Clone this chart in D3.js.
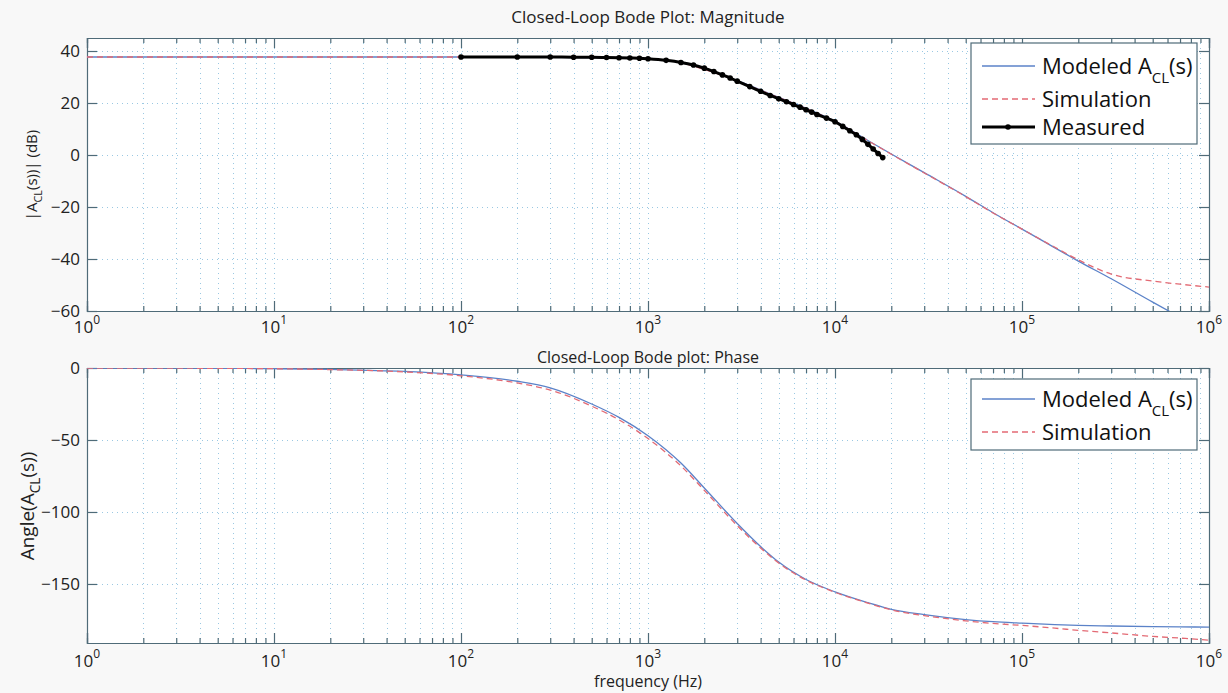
<!DOCTYPE html>
<html>
<head>
<meta charset="utf-8">
<script src="https://cdn.jsdelivr.net/npm/d3@7"></script>
<style>
  body { margin: 0; background: #f8f8f8; }
  svg { display: block; font-family: "Open Sans", "DejaVu Sans", sans-serif; }
</style>
</head>
<body>
<svg id="chart" width="1228" height="693"></svg>
<script>
// frequency grid used for the modeled and simulated curves (Hz)
const freq = [1, 2, 5, 10, 20, 50, 100, 200, 300, 500, 700, 1000, 1500, 2000, 3000, 4000, 5000, 7000,
  10000, 15000, 20000, 30000, 50000, 70000, 100000, 150000, 200000, 300000, 500000, 700000, 1000000];

// magnitude, dB
const modeledMag = [37.7, 37.7, 37.7, 37.7, 37.7, 37.7, 37.7, 37.7, 37.6, 37.5, 37.3, 37.0, 35.6, 33.0, 28.6, 25.0, 22.2, 18.0,
  13.0, 5.6, 0.4, -6.8, -15.9, -22.2, -28.5, -35.7, -40.8, -47.6, -56.6, -62.4, -68.5];
const simMag = [37.7, 37.7, 37.7, 37.7, 37.7, 37.7, 37.7, 37.7, 37.6, 37.5, 37.3, 37.0, 35.5, 32.9, 28.5, 24.9, 22.1, 17.9,
  12.9, 5.5, 0.3, -6.9, -16.0, -22.3, -28.5, -35.5, -40.3, -45.8, -48.5, -49.7, -50.8];

// phase, degrees
const modeledPhase = [0, -0.1, -0.2, -0.5, -1.0, -2.4, -4.8, -9.2, -13.8, -25, -34.3, -47, -66, -83.3, -108, -124, -134.8, -146.9,
  -155.5, -163, -167.6, -171.3, -174.7, -176.2, -177.2, -178.2, -178.7, -179.2, -179.6, -179.8, -180];
const simPhase = [0, -0.1, -0.2, -0.5, -1.1, -2.7, -5.4, -10.4, -15.3, -26.5, -36, -49, -68, -85, -109.5, -125, -135.5, -147.3,
  -155.8, -163.3, -168, -172, -175.6, -177.4, -178.8, -180.7, -182.2, -184, -186.4, -187.6, -189];

// measured points (magnitude only)
const measFreq = [100, 200, 300, 400, 500, 600, 700, 800, 900, 1000, 1250, 1500, 1750, 2000, 2250, 2500, 2750, 3000,
  3500, 4000, 4500, 5000, 5500, 6000, 6500, 7000, 7500, 8000, 9000, 10000, 11000, 12000, 13000, 14000, 15000,
  16000, 17000, 18000];
const measMag = [37.7, 37.7, 37.7, 37.6, 37.6, 37.5, 37.4, 37.3, 37.2, 37.0, 36.4, 35.6, 34.6, 33.4, 32.1, 30.8, 29.6, 28.4,
  26.3, 24.5, 22.9, 21.6, 20.5, 19.4, 18.4, 17.4, 16.5, 15.6, 14.2, 12.8, 11.0, 9.3, 7.8, 6.0, 4.1,
  2.3, 0.6, -1.0];

const xDecades = [1, 10, 100, 1000, 10000, 100000, 1000000];
const magTicks = [-60, -40, -20, 0, 20, 40];
const phaseTicks = [-150, -100, -50, 0];

const svg = d3.select("#chart");
const L = 87, R = 1209;
const axisColor = "#4f6b78", gridColor = "#9bc8e2";
const blue = "#5b82c8", red = "#e36a74";

// minor ticks for the log axis
let minors = [];
xDecades.slice(0, -1).forEach(d => { for (let k = 2; k <= 9; k++) minors.push(d * k); });

const x = d3.scaleLog().domain([1, 1e6]).range([L, R]);

function panel(id, y0, y1, yDomain, yTicks, labelBase) {
  const y = d3.scaleLinear().domain(yDomain).range([y1, y0]);
  const g = svg.append("g");

  g.append("rect").attr("x", L).attr("y", y0).attr("width", R - L).attr("height", y1 - y0).attr("fill", "#fff");

  g.append("defs").append("clipPath").attr("id", "clip" + id)
    .append("rect").attr("x", L).attr("y", y0).attr("width", R - L).attr("height", y1 - y0);

  // grid
  const grid = g.append("g").attr("stroke", gridColor).attr("stroke-width", 1).attr("stroke-dasharray", "1,4");
  grid.selectAll(".vg").data(xDecades.concat(minors)).enter().append("line")
    .attr("x1", d => Math.round(x(d)) + 0.5).attr("x2", d => Math.round(x(d)) + 0.5)
    .attr("y1", y0).attr("y2", y1);
  grid.selectAll(".hg").data(yTicks).enter().append("line")
    .attr("x1", L).attr("x2", R)
    .attr("y1", d => Math.round(y(d)) + 0.5).attr("y2", d => Math.round(y(d)) + 0.5);

  // axes, ticks inward
  const fmt = () => "";
  g.append("g").attr("transform", `translate(0,${y1})`)
    .call(d3.axisBottom(x).tickValues(xDecades).tickSize(-10).tickFormat(fmt));
  g.append("g").attr("transform", `translate(0,${y1})`)
    .call(d3.axisBottom(x).tickValues(minors).tickSize(-5).tickFormat(fmt));
  g.append("g").attr("transform", `translate(0,${y0})`)
    .call(d3.axisTop(x).tickValues(xDecades).tickSize(-10).tickFormat(fmt));
  g.append("g").attr("transform", `translate(0,${y0})`)
    .call(d3.axisTop(x).tickValues(minors).tickSize(-5).tickFormat(fmt));
  g.append("g").attr("transform", `translate(${L},0)`)
    .call(d3.axisLeft(y).tickValues(yTicks).tickSize(-10).tickPadding(7).tickFormat(d3.format("d")));
  g.append("g").attr("transform", `translate(${R},0)`)
    .call(d3.axisRight(y).tickValues(yTicks).tickSize(-10).tickFormat(fmt));

  g.selectAll(".domain, .tick line").attr("stroke", axisColor).attr("stroke-width", 1.2);
  g.selectAll(".tick text").attr("font-size", 17).attr("fill", "#222")
    .attr("font-family", "'Open Sans', sans-serif");

  // decade labels 10^n
  const lab = g.selectAll(".xl").data(xDecades).enter().append("text")
    .attr("x", d => x(d)).attr("y", labelBase).attr("text-anchor", "middle")
    .attr("font-size", 17).attr("fill", "#222");
  lab.append("tspan").text("10");
  lab.append("tspan").attr("dy", -9).attr("font-size", 12).text(d => Math.round(Math.log10(d)));

  return { g, y, clip: "url(#clip" + id + ")" };
}

function drawLine(p, xs, ys, color, width, dash) {
  const pts = xs.map((f, i) => [x(f), p.y(ys[i])]);
  p.g.append("path").datum(pts)
    .attr("clip-path", p.clip)
    .attr("fill", "none").attr("stroke", color).attr("stroke-width", width)
    .attr("stroke-dasharray", dash || null)
    .attr("d", d3.line().curve(d3.curveMonotoneX));
}

// ---- magnitude panel
const magPanel = panel("m", 38, 311, [-60, 45], magTicks, 333);
drawLine(magPanel, freq, modeledMag, blue, 1.3);
drawLine(magPanel, freq, simMag, red, 1.3, "6,4");
drawLine(magPanel, measFreq, measMag, "#000", 3);
magPanel.g.append("g").selectAll("circle").data(measFreq).enter().append("circle")
  .attr("cx", d => x(d)).attr("cy", (d, i) => magPanel.y(measMag[i])).attr("r", 2.8).attr("fill", "#000");

// ---- phase panel
const phasePanel = panel("p", 368, 643, [-191, 0], phaseTicks, 667);
drawLine(phasePanel, freq, modeledPhase, blue, 1.3);
drawLine(phasePanel, freq, simPhase, red, 1.3, "6,4");

// titles and labels
svg.append("text").attr("x", 648).attr("y", 23).attr("text-anchor", "middle")
  .attr("font-size", 17).attr("fill", "#222").text("Closed-Loop Bode Plot: Magnitude");
svg.append("text").attr("x", 648).attr("y", 363).attr("text-anchor", "middle")
  .attr("font-size", 16).attr("fill", "#222").text("Closed-Loop Bode plot: Phase");
svg.append("text").attr("x", 648).attr("y", 687).attr("text-anchor", "middle")
  .attr("font-size", 16).attr("fill", "#222").text("frequency (Hz)");

function ylabel(cx, cy, size, pre, post) {
  const t = svg.append("text").attr("transform", `translate(${cx},${cy}) rotate(-90)`)
    .attr("text-anchor", "middle").attr("font-size", size).attr("fill", "#222");
  t.append("tspan").text(pre);
  t.append("tspan").attr("dy", size / 3).attr("font-size", size * 0.72).text("CL");
  t.append("tspan").attr("dy", -size / 3).text(post);
}
ylabel(37, 175, 15, "|A", "(s))| (dB)");
ylabel(34, 506, 19, "Angle(A", "(s))");

// legends
function legend(bx, by, bw, bh, items) {
  const g = svg.append("g");
  g.append("rect").attr("x", bx).attr("y", by).attr("width", bw).attr("height", bh)
    .attr("fill", "#fff").attr("stroke", axisColor).attr("stroke-width", 1.2);
  items.forEach(it => {
    g.append("line").attr("x1", 982).attr("x2", 1035).attr("y1", it.y).attr("y2", it.y)
      .attr("stroke", it.color).attr("stroke-width", it.w).attr("stroke-dasharray", it.dash || null);
    if (it.marker) g.append("circle").attr("cx", 1008).attr("cy", it.y).attr("r", 2.8).attr("fill", "#000");
    const t = g.append("text").attr("x", 1042).attr("y", it.y + 8).attr("font-size", 22).attr("fill", "#111");
    if (it.sub) {
      t.append("tspan").text(it.label);
      t.append("tspan").attr("dy", 9).attr("font-size", 15).text(it.sub);
      t.append("tspan").attr("dy", -9).text(it.post);
    } else t.text(it.label);
  });
}
legend(971, 43, 226, 101, [
  { y: 66, color: blue, w: 1.3, label: "Modeled A", sub: "CL", post: "(s)" },
  { y: 99, color: red, w: 1.3, dash: "6,4", label: "Simulation" },
  { y: 127, color: "#000", w: 3, marker: true, label: "Measured" }
]);
legend(971, 379, 226, 71, [
  { y: 399, color: blue, w: 1.3, label: "Modeled A", sub: "CL", post: "(s)" },
  { y: 432, color: red, w: 1.3, dash: "6,4", label: "Simulation" }
]);
</script>
</body>
</html>
